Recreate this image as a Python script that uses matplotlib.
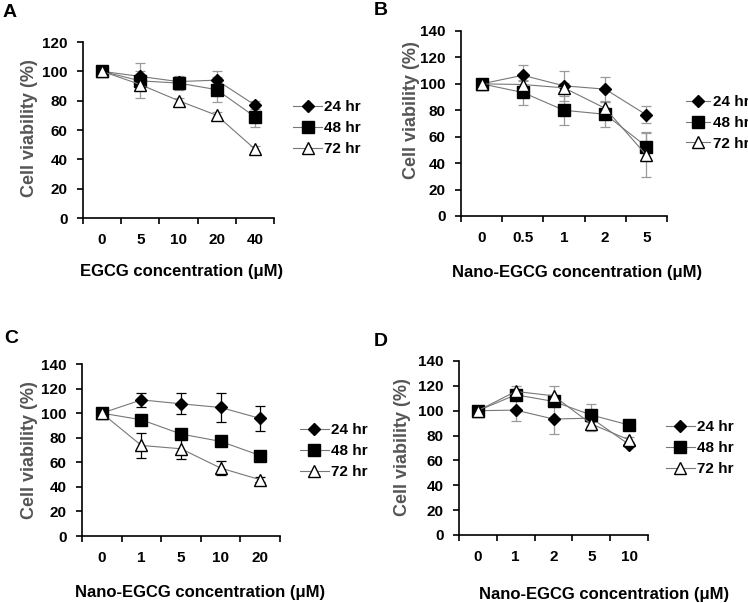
import numpy as np
import matplotlib
matplotlib.use('Agg')
import matplotlib.pyplot as plt
from matplotlib import rcParams

rcParams['font.family'] = 'Liberation Sans'
rcParams['font.weight'] = 'bold'

series_labels = ['24 hr', '48 hr', '72 hr']

# panel A: EGCG
a_ticks = ['0', '5', '10', '20', '40']
a_24 = [100, 96.5, 93, 94, 77]
a_48 = [100, 93.5, 92, 87.5, 69]
a_72 = [100, 91, 80, 70, 47]
a_24_err = [0, 9, 3, 6, 3]
a_48_err = [0, 4, 4.5, 8.5, 7]
a_72_err = [0, 9.5, 2, 2, 2]

# panel B: Nano-EGCG
b_ticks = ['0', '0.5', '1', '2', '5']
b_24 = [100, 106.5, 98.5, 96, 76.5]
b_48 = [100, 93.5, 80, 77, 52.5]
b_72 = [100, 99.5, 97, 81.5, 46]
b_24_err = [0, 8, 11.5, 9.5, 6.5]
b_48_err = [0, 9.5, 11, 10, 11]
b_72_err = [0, 3, 4, 5, 16.5]

# panel C
c_ticks = ['0', '1', '5', '10', '20']
c_24 = [100, 110.8, 107.6, 104.6, 95.7]
c_48 = [100, 94.6, 83, 77, 65.5]
c_72 = [100, 73.7, 71, 55.3, 45.8]
c_24_err = [0, 6, 8.5, 11.8, 10]
c_48_err = [0, 2, 2, 2, 2]
c_72_err = [0, 10, 8, 6, 2]

# panel D
d_ticks = ['0', '1', '2', '5', '10']
d_24 = [100, 100.5, 93.3, 94, 72.8]
d_48 = [100, 112.8, 107.5, 96.5, 88.5]
d_72 = [100, 115.5, 112, 89.3, 76.5]
d_24_err = [0, 8.5, 12, 3, 2]
d_48_err = [0, 3, 4, 9, 2]
d_72_err = [0, 4.5, 8, 6, 2]

panels = [
    dict(tag='A', ticks=a_ticks, ys=[a_24, a_48, a_72], errs=[a_24_err, a_48_err, a_72_err],
         xlabel=u'EGCG concentration (\u03bcM)', ymax=120,
         rect=[83/748, 1-218/603, 191/748, 176/603],
         ylab=(-0.236, 0.51), xlab=(0.518, -0.261), leg=(1.10, 0.511), hl=1.9, ecol='#9a9a9a'),
    dict(tag='B', ticks=b_ticks, ys=[b_24, b_48, b_72], errs=[b_24_err, b_48_err, b_72_err],
         xlabel=u'Nano-EGCG concentration (\u03bcM)', ymax=140,
         rect=[461/748, 1-216/603, 206/748, 185/603],
         ylab=(-0.199, 0.573), xlab=(0.563, -0.265), leg=(1.092, 0.503), hl=1.6, ecol='#9a9a9a'),
    dict(tag='C', ticks=c_ticks, ys=[c_24, c_48, c_72], errs=[c_24_err, c_48_err, c_72_err],
         xlabel=u'Nano-EGCG concentration (\u03bcM)', ymax=140,
         rect=[82/748, 1-536/603, 198/748, 172/603],
         ylab=(-0.222, 0.50), xlab=(0.596, -0.285), leg=(1.10, 0.494), hl=1.9, ecol='black'),
    dict(tag='D', ticks=d_ticks, ys=[d_24, d_48, d_72], errs=[d_24_err, d_48_err, d_72_err],
         xlabel=u'Nano-EGCG concentration (\u03bcM)', ymax=140,
         rect=[459/748, 1-535/603, 189/748, 174/603],
         ylab=(-0.254, 0.506), xlab=(0.767, -0.299), leg=(1.095, 0.50), hl=1.9, ecol='#9a9a9a'),
]

tag_pos = {'A': (3, 4), 'B': (374, 2), 'C': (4, 330), 'D': (374, 333)}

styles = [
    dict(marker='D', markersize=6.5, markerfacecolor='black', markeredgecolor='black'),
    dict(marker='s', markersize=8, markerfacecolor='black', markeredgecolor='black'),
    dict(marker='^', markersize=8.5, markerfacecolor='white', markeredgecolor='black', markeredgewidth=1.0),
]

fig = plt.figure(figsize=(7.48, 6.03), dpi=100)

for p in panels:
    ax = fig.add_axes(p['rect'])
    x = np.arange(len(p['ticks']))
    for ys, er, st, lab in zip(p['ys'], p['errs'], styles, series_labels):
        ax.errorbar(x, ys, yerr=er, fmt='none', ecolor=p['ecol'], elinewidth=0.9,
                    capsize=3.5, capthick=0.9, zorder=2)
        ax.plot(x, ys, color='#777777', linewidth=0.8, label=lab, zorder=3, **st)

    ax.set_xlim(-0.5, len(x) - 0.5)
    ax.set_ylim(0, p['ymax'])
    ax.set_yticks(np.arange(0, p['ymax'] + 1, 20))
    ax.set_xticks(np.arange(-0.5, len(x), 1))
    ax.set_xticklabels([])
    ax.set_xticks(x, minor=True)
    ax.set_xticklabels(p['ticks'], minor=True)
    ax.tick_params(axis='x', which='major', direction='out', length=4, width=1.2)
    ax.tick_params(axis='x', which='minor', length=0, pad=11, labelsize=11)
    ax.tick_params(axis='y', direction='out', length=4, width=1.2, pad=7, labelsize=11)
    for s in ['top', 'right']:
        ax.spines[s].set_visible(False)
    for s in ['left', 'bottom']:
        ax.spines[s].set_linewidth(1.2)

    ax.set_ylabel('Cell viability (%)', fontsize=13, fontweight='bold', color='#555555')
    ax.yaxis.set_label_coords(*p['ylab'])
    ax.set_xlabel(p['xlabel'], fontsize=12, fontweight='bold')
    ax.xaxis.set_label_coords(*p['xlab'])

    ax.legend(loc='center left', bbox_to_anchor=p['leg'], frameon=False, fontsize=11,
              handlelength=p['hl'], handletextpad=0.15, labelspacing=0.45,
              borderpad=0, borderaxespad=0)

    tx, ty = tag_pos[p['tag']]
    fig.text(tx / 748, 1 - ty / 603, p['tag'], fontsize=14, fontweight='bold',
             ha='left', va='top')

fig.savefig('out.png', dpi=100)
